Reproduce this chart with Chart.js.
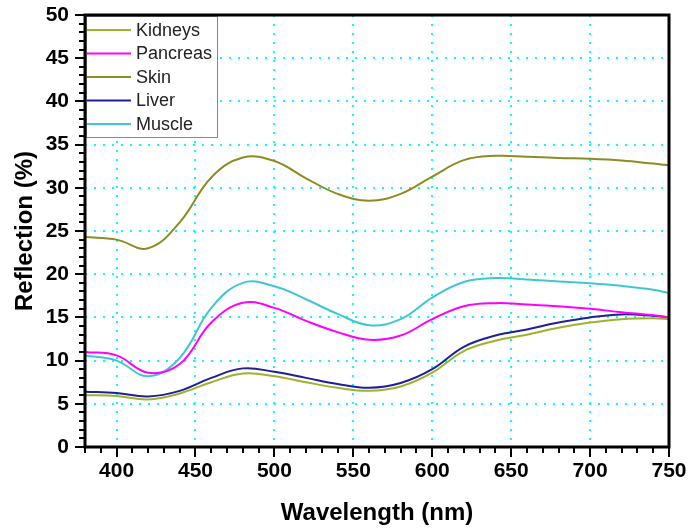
<!DOCTYPE html>
<html>
<head>
<meta charset="utf-8">
<script src="https://cdn.jsdelivr.net/npm/chart.js@4/dist/chart.umd.min.js"></script>
<style>
  html, body { margin: 0; padding: 0; background: #fff; }
</style>
</head>
<body>
<canvas id="reflectionChart" width="691" height="531"></canvas>
<script>
// Values
const wavelengths = [380, 400, 420, 440, 460, 480, 500, 520, 540, 560, 580, 600, 620, 640, 660, 680, 700, 720, 740, 750];
const kidneys  = [6.0, 5.9, 5.5, 6.2, 7.5, 8.5, 8.2, 7.5, 6.85, 6.5, 7.0, 8.6, 11.1, 12.3, 13.0, 13.8, 14.4, 14.8, 14.9, 14.8];
const pancreas = [11.0, 10.6, 8.6, 9.6, 14.4, 16.7, 16.1, 14.6, 13.3, 12.4, 12.9, 14.8, 16.3, 16.65, 16.5, 16.3, 16.0, 15.6, 15.25, 15.0];
const skin     = [24.3, 24.0, 23.0, 26.0, 31.2, 33.5, 33.1, 31.1, 29.3, 28.5, 29.3, 31.3, 33.2, 33.7, 33.6, 33.45, 33.35, 33.15, 32.8, 32.6];
const liver    = [6.4, 6.25, 5.85, 6.5, 8.0, 9.1, 8.7, 8.0, 7.3, 6.85, 7.4, 9.0, 11.6, 12.9, 13.6, 14.4, 15.0, 15.35, 15.2, 15.0];
const muscle   = [10.6, 10.0, 8.2, 10.3, 16.1, 19.0, 18.6, 17.1, 15.4, 14.1, 14.8, 17.3, 19.1, 19.55, 19.4, 19.15, 18.95, 18.65, 18.2, 17.8];

const seriesNames = ['Kidneys', 'Pancreas', 'Skin', 'Liver', 'Muscle'];
const seriesColors = ['#9db22e', '#ff00ff', '#8c8c22', '#1f1f96', '#40c6d2'];
const xTicks = [400, 450, 500, 550, 600, 650, 700, 750];
const yTicks = [0, 5, 10, 15, 20, 25, 30, 35, 40, 45, 50];

const toPoints = arr => arr.map((v, i) => ({ x: wavelengths[i], y: v }));
const seriesData = [kidneys, pancreas, skin, liver, muscle];

const FONT = "'Liberation Sans', Arial, sans-serif";

// don't let label overflow push the plot area in
function clearPadding(scale) {
  scale.paddingTop = 0;
  scale.paddingBottom = 0;
  scale.paddingLeft = 0;
  scale.paddingRight = 0;
}

// frame, outward major/minor ticks and the boxed legend
const frameAndLegend = {
  id: 'frameAndLegend',
  afterDatasetsDraw(chart) {
    const { ctx, chartArea, scales } = chart;
    const { left, right, top, bottom } = chartArea;

    // legend box
    const bx = left + 1, by = top + 1, bw = 131, bh = 121;
    ctx.save();
    ctx.fillStyle = '#fff';
    ctx.fillRect(bx, by, bw, bh);
    ctx.strokeStyle = '#888';
    ctx.lineWidth = 1;
    ctx.strokeRect(bx + 0.5, by + 0.5, bw, bh);
    ctx.font = '18px ' + FONT;
    ctx.textBaseline = 'middle';
    ctx.fillStyle = '#222';
    chart.data.datasets.forEach((ds, i) => {
      const cy = top + 15 + i * 23.5;
      ctx.strokeStyle = ds.borderColor;
      ctx.lineWidth = 2;
      ctx.beginPath();
      ctx.moveTo(bx + 1, cy);
      ctx.lineTo(bx + 45, cy);
      ctx.stroke();
      ctx.fillText(ds.label, bx + 50, cy + 1);
    });

    // ticks
    ctx.strokeStyle = '#000';
    ctx.lineWidth = 2;
    const ys = scales.y;
    for (let v = 0; v <= 50; v++) {
      const py = Math.round(ys.getPixelForValue(v));
      const len = v % 5 === 0 ? 10 : 6;
      ctx.beginPath();
      ctx.moveTo(left, py);
      ctx.lineTo(left - len, py);
      ctx.stroke();
    }
    const xs = scales.x;
    for (let v = 380; v <= 750; v += 10) {
      const px = Math.round(xs.getPixelForValue(v));
      const len = v % 50 === 0 ? 10 : 6;
      ctx.beginPath();
      ctx.moveTo(px, bottom);
      ctx.lineTo(px, bottom + len);
      ctx.stroke();
    }

    // frame
    ctx.lineWidth = 3;
    ctx.strokeRect(left, top, right - left, bottom - top);
    ctx.restore();
  }
};

const ctx = document.getElementById('reflectionChart').getContext('2d');
const chart = new Chart(ctx, {
  type: 'line',
  data: {
    datasets: seriesNames.map((name, i) => ({
      label: name,
      data: toPoints(seriesData[i]),
      borderColor: seriesColors[i],
      borderWidth: 2,
      pointRadius: 0,
      fill: false,
      tension: 0.4
    }))
  },
  options: {
    responsive: false,
    animation: false,
    devicePixelRatio: 1,
    layout: { padding: { top: 15, right: 22, left: 0, bottom: 0 } },
    plugins: {
      legend: { display: false },
      tooltip: { enabled: false }
    },
    scales: {
      x: {
        type: 'linear',
        min: 380,
        max: 750,
        afterBuildTicks: scale => { scale.ticks = xTicks.map(v => ({ value: v })); },
        afterFit: scale => { scale.height = 84; clearPadding(scale); },
        grid: { color: '#00ffff', lineWidth: 2, drawTicks: false },
        border: { display: false, dash: [2, 7] },
        ticks: {
          padding: 12,
          color: '#000',
          maxRotation: 0,
          font: { family: FONT, size: 21, weight: 'bold' }
        },
        title: {
          display: true,
          text: 'Wavelength (nm)',
          color: '#000',
          font: { family: FONT, size: 24, weight: 'bold' },
          padding: { top: 0, bottom: 3 }
        }
      },
      y: {
        min: 0,
        max: 50,
        afterBuildTicks: scale => { scale.ticks = yTicks.map(v => ({ value: v })); },
        afterFit: scale => { scale.width = 85; clearPadding(scale); },
        grid: { color: '#00ffff', lineWidth: 2, drawTicks: false },
        border: { display: false, dash: [2, 7] },
        ticks: {
          padding: 16,
          color: '#000',
          font: { family: FONT, size: 21, weight: 'bold' }
        },
        title: {
          display: true,
          text: 'Reflection (%)',
          color: '#000',
          font: { family: FONT, size: 24, weight: 'bold' },
          padding: { top: 11, bottom: 0 }
        }
      }
    }
  },
  plugins: [frameAndLegend]
});
</script>
</body>
</html>
